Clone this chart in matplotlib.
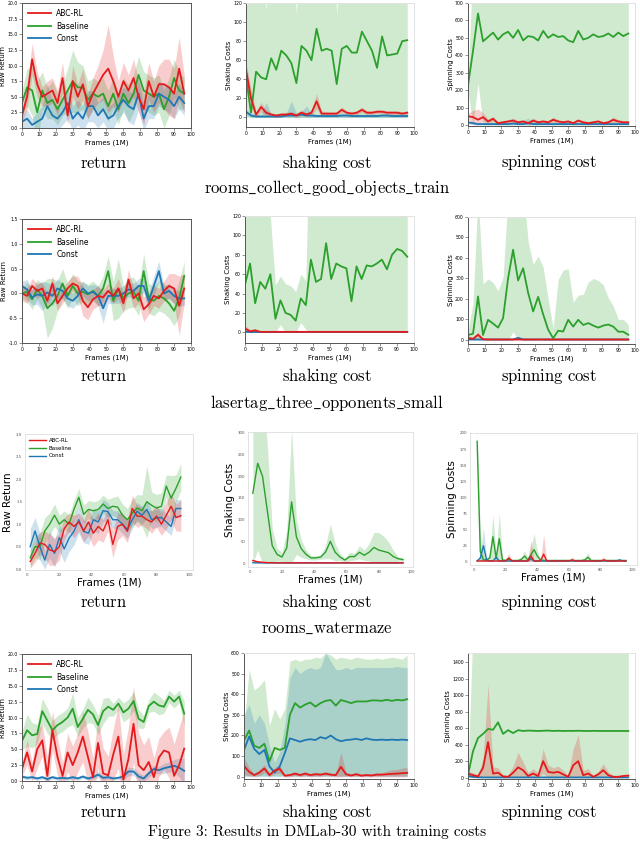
import numpy as np
import matplotlib
matplotlib.use("Agg")
import matplotlib.pyplot as plt
from matplotlib.lines import Line2D

plt.rcParams["mathtext.fontset"] = "cm"
plt.rcParams["font.family"] = ["DejaVu Sans"]
plt.rcParams["axes.unicode_minus"] = False

# ------------------------------------------------------------------ data
labels = ["ABC-RL", "Baseline", "Const"]
frames = list(range(0, 97, 3))          # 33 points
frames_wm = list(range(2, 96, 3))       # 32 points (rooms_watermaze)
frames_wm_spin = list(range(2, 97, 2))  # 48 points (rooms_watermaze spinning)

# ---- rooms_collect_good_objects_train : return
r1_ret_abc = [2.0,5.0,11.0,7.0,5.0,5.5,6.0,4.0,8.0,2.0,7.5,5.0,7.0,3.5,5.5,7.0,8.5,9.5,7.5,5.0,7.5,6.0,8.0,5.0,3.0,7.5,5.0,7.0,7.0,6.5,5.5,9.5,5.5]
r1_ret_abc_sd = [1.0,2.0,2.5,2.0,1.5,2.0,2.0,2.0,2.5,1.5,2.5,2.0,2.5,2.0,2.5,3.0,4.0,7.0,4.0,2.5,3.0,2.5,3.0,2.5,2.5,3.0,2.5,3.0,4.0,4.5,4.0,5.0,3.0]
r1_ret_base = [4.0,6.5,6.0,2.5,6.0,4.0,4.5,3.0,4.5,6.0,7.5,6.5,6.5,4.5,5.5,5.0,5.5,3.5,5.5,3.0,5.5,4.0,5.5,8.5,6.0,5.5,5.0,5.5,3.0,5.0,8.0,6.0,5.5]
r1_ret_base_sd = [2.0,3.0,4.0,5.0,3.0,2.5,3.0,2.5,2.5,3.5,5.0,4.0,3.5,3.0,2.5,2.5,2.5,2.5,2.5,2.5,2.5,3.0,3.0,3.0,3.0,3.0,3.0,3.0,3.0,3.0,3.0,3.0,2.5]
r1_ret_const = [1.0,1.5,0.5,1.0,1.5,3.5,2.0,1.5,2.5,4.0,1.5,2.5,1.5,3.5,3.5,2.0,3.0,1.5,2.0,3.5,4.5,3.5,3.0,5.5,1.5,3.5,3.5,5.5,5.0,4.5,3.5,5.0,4.0]
r1_ret_const_sd = [1.0,1.5,1.0,1.5,2.0,3.5,2.0,2.0,2.0,2.5,2.0,2.0,2.0,2.5,2.5,2.0,2.0,2.0,2.0,2.0,2.0,2.5,2.5,2.5,2.0,2.0,2.0,2.0,2.0,2.0,2.0,2.0,2.0]
# ---- rooms_collect_good_objects_train : shaking
r1_shk_abc = [50,20,3,11,5,3,2,3,3,4,2,5,3,5,17,4,4,4,4,8,5,4,5,8,5,5,6,6,5,5,5,4,5]
r1_shk_abc_sd = [8,10,3,5,3,2,2,2,2,2,2,3,2,3,8,3,2,2,2,3,2,2,2,3,2,2,2,2,2,2,2,2,2]
r1_shk_base = [42,5,48,42,40,62,50,70,65,57,36,75,70,60,93,70,72,70,35,72,75,68,68,90,80,70,52,85,65,66,67,80,81]
r1_shk_base_sd = [70,150,150,150,72,150,150,150,150,150,72,150,150,150,150,150,150,150,72,150,150,150,150,150,150,150,150,150,150,150,150,150,150]
r1_shk_const = [6,2,1,1,1,1,1,1,2,2,2,3,2,2,1.5,1.5,1.5,1.5,1.5,2,2,1.5,1.5,1.5,1.5,1.5,1.5,2,2,1.5,1.5,1.5,1.5]
r1_shk_const_sd = [3,3,2,2,15,3,2,3,3,15,3,3,10,3,2,2,2,2,2,2,2,2,2,2,2,2,2,2,2,2,2,2,2]
# ---- rooms_collect_good_objects_train : spinning
r1_spn_abc = [50,45,30,45,20,35,10,15,20,25,15,20,10,25,15,20,15,30,20,15,20,10,25,15,10,15,20,10,15,30,20,15,15]
r1_spn_abc_sd = [15,40,60,25,15,15,10,10,10,15,10,10,10,15,10,10,10,15,10,10,10,10,10,10,10,10,10,10,10,15,10,10,10]
r1_spn_base = [227,425,640,480,505,530,490,520,535,500,545,485,510,505,485,540,500,520,505,510,485,475,540,490,500,520,505,510,525,505,530,510,525]
r1_spn_base_sd = [40,500,400,550,600,600,600,600,600,600,600,600,600,600,600,600,600,600,600,600,600,600,600,600,600,600,600,600,600,600,600,600,600]
r1_spn_const = [15,10,5,5,5,5,5,5,5,8,5,5,10,5,5,5,5,5,5,5,5,5,5,5,5,5,5,5,5,5,5,5,5]
r1_spn_const_sd = [10,10,5,5,5,5,5,10,5,10,10,20,30,10,5,5,5,5,5,5,5,5,5,5,5,5,5,5,5,5,5,5,5]

# ---- lasertag_three_opponents_small : return
r2_ret_abc = [0.0,-0.05,0.15,0.05,0.1,-0.15,0.2,-0.2,-0.05,0.1,0.2,0.15,-0.15,-0.28,-0.12,-0.05,-0.08,0.05,-0.05,0.1,-0.2,0.28,-0.1,0.0,-0.32,-0.22,-0.05,-0.1,0.05,0.15,0.1,-0.25,0.1]
r2_ret_abc_sd = [0.15,0.15,0.15,0.15,0.12,0.15,0.15,0.15,0.15,0.15,0.15,0.2,0.3,0.25,0.2,0.2,0.15,0.15,0.15,0.2,0.2,0.2,0.2,0.2,0.25,0.2,0.2,0.2,0.2,0.25,0.3,0.6,0.3]
r2_ret_base = [0.0,0.03,-0.12,0.08,-0.05,-0.3,-0.2,-0.05,0.2,-0.05,0.15,0.0,0.03,-0.02,0.05,-0.05,0.1,0.45,-0.15,0.1,-0.1,0.0,0.03,-0.15,0.45,-0.1,-0.15,-0.05,-0.1,-0.2,-0.35,-0.1,0.35]
r2_ret_base_sd = [0.1,0.2,0.2,0.2,0.25,0.6,0.5,0.3,0.3,0.25,0.25,0.25,0.2,0.2,0.2,0.2,0.25,0.3,0.4,0.6,0.25,0.3,0.3,0.3,0.35,0.3,0.3,0.3,0.3,0.3,0.3,0.35,0.3]
r2_ret_const = [0.15,0.08,-0.08,-0.02,-0.05,0.02,-0.05,0.1,0.05,-0.1,-0.15,-0.05,0.1,0.0,0.03,-0.05,-0.3,-0.05,-0.05,-0.05,0.0,0.08,0.05,0.15,0.15,-0.15,0.15,0.45,0.0,0.05,-0.05,-0.1,-0.1]
r2_ret_const_sd = [0.1,0.2,0.15,0.2,0.3,0.2,0.2,0.2,0.15,0.15,0.15,0.15,0.15,0.15,0.15,0.2,0.3,0.15,0.15,0.15,0.15,0.15,0.15,0.15,0.15,0.15,0.2,0.2,0.15,0.15,0.15,0.15,0.15]
# ---- lasertag : shaking
r2_shk_abc = [4,1,2,0.5,0.5,0.5,0.5,0.5,0.5,0.5,0.5,0.5,0.5,0.5,0.5,0.5,0.5,0.5,0.5,0.5,0.5,0.5,0.5,0.5,0.5,0.5,0.5,0.5,0.5,0.5,0.5,0.5,0.5]
r2_shk_abc_sd = [3,2,2,1,1,1,1,1,1,1,1,1,1,1,1,1,1,1,1,1,1,1,1,1,1,1,1,1,1,1,1,1,1]
r2_shk_base = [49,71,30,52,45,60,14,33,20,18,12,35,28,75,52,55,92,55,71,68,66,32,68,55,69,68,71,75,65,80,86,84,78]
r2_shk_base_sd = [200,200,200,200,200,60,35,25,30,30,30,25,25,200,200,200,200,200,200,200,200,200,200,200,200,200,200,200,200,200,200,200,200]
r2_shk_const = [0.5,0.3,0.3,0.3,0.3,0.3,0.3,0.3,0.3,0.3,0.3,0.3,0.3,0.3,0.3,0.3,0.3,0.3,0.3,0.3,0.3,0.3,0.3,0.3,0.3,0.3,0.3,0.3,0.3,0.3,0.3,0.3,0.3]
r2_shk_const_sd = [1,1,1,1,1,1,1,1,1,1,1,1,1,1,1,1,1,1,1,1,1,1,1,1,1,1,1,1,1,1,1,1,1]
# ---- lasertag : spinning
r2_spn_abc = [10,5,25,3,2,2,2,2,2,2,2,2,2,2,2,2,2,2,2,2,2,2,2,2,2,2,2,2,2,2,2,2,2]
r2_spn_abc_sd = [10,8,15,3,2,2,2,2,2,2,2,2,2,2,2,2,2,2,2,2,2,2,2,2,2,2,2,2,2,2,2,2,2]
r2_spn_base = [24,30,212,24,98,80,60,106,300,440,290,350,230,139,210,125,50,8,45,41,98,65,98,73,82,70,60,70,75,65,40,40,25]
r2_spn_base_sd = [20,150,500,250,200,200,180,200,400,400,400,400,250,230,200,230,150,50,250,300,250,120,120,150,200,230,230,200,130,100,60,60,50]
r2_spn_const = [2,2,2,2,2,2,2,2,2,2,10,2,2,2,2,2,2,2,2,2,2,2,2,2,2,2,2,2,2,2,2,2,2]
r2_spn_const_sd = [3,3,3,3,3,3,3,3,3,3,8,3,3,3,3,3,3,3,3,3,3,3,3,3,3,3,3,3,3,3,3,3,3]

# ---- rooms_watermaze : return
r3_ret_abc = [0.17,0.35,0.58,0.55,0.43,0.39,0.5,0.9,1.05,0.95,1.05,0.85,1.05,0.8,0.95,0.85,1.1,0.55,0.95,1.0,0.84,1.35,1.18,1.18,1.1,1.05,1.18,1.0,1.2,1.4,1.15,1.19]
r3_ret_abc_sd = [0.15,0.2,0.25,0.3,0.35,0.3,0.3,0.25,0.2,0.25,0.2,0.25,0.3,0.3,0.3,0.25,0.25,0.3,0.3,0.25,0.25,0.3,0.25,0.2,0.2,0.25,0.25,0.25,0.3,0.3,0.3,0.35]
r3_ret_base = [0.25,0.5,0.5,0.85,1.0,1.2,1.0,1.1,1.0,1.33,1.6,1.22,1.33,1.3,1.33,1.45,1.35,1.4,1.38,1.2,1.1,1.25,1.36,1.3,1.5,1.42,1.36,1.4,1.85,1.58,1.8,2.05]
r3_ret_base_sd = [0.2,0.25,0.3,0.3,0.25,0.25,0.2,0.2,0.2,0.2,0.2,0.2,0.2,0.2,0.2,0.2,0.2,0.2,0.25,0.25,0.25,0.3,0.3,0.35,0.8,0.3,0.3,0.3,0.25,0.5,0.3,0.3]
r3_ret_const = [0.5,0.85,0.5,0.2,0.55,0.35,0.7,0.45,0.69,0.84,1.1,0.84,0.8,1.1,1.05,1.3,1.28,1.1,1.1,1.0,0.88,1.1,1.29,1.2,1.33,1.1,1.14,1.15,1.05,0.95,1.35,1.35]
r3_ret_const_sd = [0.4,0.3,0.3,0.2,0.3,0.3,0.3,0.3,0.3,0.3,0.3,0.25,0.25,0.25,0.25,0.25,0.2,0.2,0.2,0.2,0.2,0.2,0.2,0.2,0.2,0.2,0.2,0.2,0.2,0.2,0.2,0.2]
# ---- rooms_watermaze : shaking
r3_shk_abc = [6,3,2,1,1,0.5,0.5,0.5,0.5,0.5,0.5,0.5,0.5,0.5,0.5,0.5,0.5,0.5,0.5,0.5,0.5,0.5,0.5,0.5,0.5,0.5,0.5,0.5,0.5,0.5,0.5,0.5]
r3_shk_abc_sd = [2,2,1,1,1,0.5,0.5,0.5,0.5,0.5,0.5,0.5,0.5,0.5,0.5,0.5,0.5,0.5,0.5,0.5,0.5,0.5,0.5,0.5,0.5,0.5,0.5,0.5,0.5,0.5,0.5,0.5]
r3_shk_base = [161,230,200,120,40,20,14,35,141,60,33,20,12,12,14,25,50,25,14,7,15,15,25,18,25,36,30,27,24,15,10,8]
r3_shk_base_sd = [200,200,200,150,40,15,10,40,170,40,20,10,5,5,5,15,40,20,8,5,10,8,15,12,20,35,40,35,25,15,5,4]
r3_shk_const = [1,0.5,0.5,0.5,0.5,0.5,0.5,0.5,0.5,0.5,0.5,0.5,0.5,0.5,0.5,0.5,0.5,0.5,0.5,0.5,0.5,0.5,0.5,0.5,0.5,0.5,0.5,0.5,0.5,0.5,0.5,0.5]
r3_shk_const_sd = [1,1,1,1,1,1,1,1,1,1,1,1,1,1,1,1,1,1,1,1,1,1,1,1,1,1,1,1,1,1,1,1]
# ---- rooms_watermaze : spinning
r3_spn_abc = [0.3,0.3,0.3,0.3,0.3,0.3,0.3,0.3,0.3,0.3,5,0.3,0.3,0.3,0.3,0.3,0.3,8,0.3,0.3,0.3,11,0.3,0.3,0.3,0.3,0.3,0.3,0.3,0.3,2,0.3,0.3,0.3,0.3,0.3,0.3,0.3,0.3,0.3,2,0.3,0.3,0.3,0.3,0.3,0.3,0.3]
r3_spn_abc_sd = [0.5,0.5,0.5,0.5,0.5,0.5,0.5,0.5,0.5,0.5,8,0.5,0.5,0.5,0.5,0.5,0.5,25,0.5,0.5,0.5,30,0.5,0.5,0.5,0.5,0.5,0.5,0.5,0.5,5,0.5,0.5,0.5,0.5,0.5,0.5,0.5,0.5,0.5,5,0.5,0.5,0.5,0.5,0.5,0.5,0.5]
r3_spn_base = [187,15,2,2,5,38,5,35,2,1,3,1,1,1,3,8,2,10,18,8,2,1,1,1,1,1,1,1,1,1,1,1,1,1,2,6,1,1,1,1,1,1,1,1,1,1,1,1]
r3_spn_base_sd = [20,30,3,3,5,35,5,40,3,2,3,2,2,2,3,8,3,12,25,8,3,2,2,2,2,2,2,2,2,2,2,2,2,2,3,7,2,2,2,2,2,2,2,2,2,2,2,2]
r3_spn_const = [0.3,5,24,2,0.3,0.3,6,0.3,0.3,0.3,0.3,0.3,0.3,0.3,0.3,0.3,0.3,4,0.3,0.3,0.3,0.3,0.3,0.3,0.3,0.3,0.3,0.3,0.3,0.3,0.3,0.3,0.3,0.3,0.3,0.3,0.3,0.3,0.3,0.3,0.3,0.3,0.3,0.3,0.3,2,0.3,0.3]
r3_spn_const_sd = [0.5,5,28,3,0.5,0.5,6,0.5,0.5,0.5,0.5,0.5,0.5,0.5,0.5,0.5,0.5,4,0.5,0.5,0.5,0.5,0.5,0.5,0.5,0.5,0.5,0.5,0.5,0.5,0.5,0.5,0.5,0.5,0.5,0.5,0.5,0.5,0.5,0.5,0.5,0.5,0.5,0.5,0.5,2,0.5,0.5]

# ---- 4th environment : return
r4_ret_abc = [1.9,4.5,1.5,5.0,6.4,0.8,8.0,3.8,0.8,4.5,2.5,4.5,7.0,3.8,0.6,6.0,1.2,0.9,4.2,7.0,0.2,3.5,9.0,2.5,1.7,3.0,0.6,3.7,4.8,4.5,0.8,2.5,5.1]
r4_ret_abc_sd = [1.0,2.0,1.5,3.0,2.5,3.0,3.0,3.0,2.0,3.0,3.0,3.0,4.0,4.0,3.0,4.0,4.0,3.0,4.0,5.0,4.0,5.0,6.0,5.0,4.0,4.0,3.0,3.0,3.0,4.0,5.0,6.0,6.0]
r4_ret_base = [6.3,8.0,7.2,7.4,11.0,9.5,8.0,8.8,9.3,10.0,11.4,8.5,9.8,11.2,10.5,8.8,11.0,11.7,11.2,12.2,10.8,11.4,12.6,9.8,9.3,11.8,12.5,11.9,11.7,13.3,12.5,13.3,10.6]
r4_ret_base_sd = [1.5,2.5,2.0,1.5,2.0,2.0,1.5,1.5,1.5,1.5,2.5,1.5,1.5,2.0,1.5,1.5,2.0,1.5,1.0,1.0,1.5,1.5,1.5,1.5,1.0,1.0,1.5,1.5,1.0,1.0,1.0,1.0,2.0]
r4_ret_const = [0.7,0.5,0.6,0.4,0.6,0.3,0.6,0.4,0.5,0.4,0.6,0.4,0.7,0.4,0.6,1.0,0.5,0.6,0.4,0.5,0.7,1.5,1.5,0.7,0.4,1.2,1.9,1.7,2.0,2.2,2.4,2.1,1.6]
r4_ret_const_sd = [0.3,0.3,0.3,0.3,0.3,0.3,0.3,0.3,0.3,0.3,0.3,0.3,0.3,0.3,0.3,0.5,0.4,0.3,0.3,0.3,0.5,0.7,0.6,0.6,0.5,0.6,0.6,0.6,0.8,0.8,1.0,1.5,2.0]
# ---- 4th environment : shaking (bands given as low / high)
r4_shk_abc = [52,24,8,20,40,8,30,38,5,8,15,8,15,8,12,10,15,10,8,48,12,6,12,5,8,6,10,10,12,14,15,17,19]
r4_shk_abc_sd = [40,20,8,15,20,8,15,20,5,8,10,8,10,8,10,8,10,8,8,70,10,8,10,8,8,8,10,10,15,20,20,25,25]
r4_shk_base = [175,224,150,140,160,75,140,130,140,300,357,335,350,360,340,357,368,372,345,372,365,357,365,365,365,370,370,368,373,368,373,370,376]
r4_shk_base_lo = [5,5,5,5,5,5,5,5,5,5,5,5,5,5,5,5,5,5,5,5,5,5,5,5,5,5,5,5,5,5,5,5,5]
r4_shk_base_hi = [250,520,420,440,470,250,330,280,330,560,570,560,570,570,580,575,600,590,570,580,575,570,580,575,570,570,575,570,575,580,575,570,590]
r4_shk_const = [130,195,135,110,130,50,20,50,115,186,178,170,178,182,178,192,185,200,182,172,178,180,184,178,186,180,178,180,178,180,178,180,178]
r4_shk_const_lo = [0,0,0,0,0,0,0,0,0,0,0,0,0,0,0,0,0,0,0,0,0,0,0,0,0,0,0,0,0,0,0,0,0]
r4_shk_const_hi = [300,350,260,300,260,150,70,120,250,480,530,500,520,530,520,530,600,560,520,520,530,520,530,530,530,530,530,530,530,530,535,530,530]
# ---- 4th environment : spinning
r4_spn_abc = [50,30,15,120,430,50,60,15,10,60,125,90,20,50,20,200,70,60,70,40,10,150,200,30,50,10,40,90,30,10,10,20,25]
r4_spn_abc_sd = [30,30,20,100,700,80,60,20,20,80,180,100,40,60,40,150,80,60,70,50,20,200,320,60,60,20,40,80,40,20,20,20,20]
r4_spn_base = [30,320,480,530,590,580,670,530,575,540,575,565,570,568,565,568,570,566,568,565,567,566,568,566,565,567,566,565,566,565,566,565,565]
r4_spn_base_sd = [40,1500,1500,1500,1500,1500,1500,1500,1500,1500,1500,1500,1500,1500,1500,1500,1500,1500,1500,1500,1500,1500,1500,1500,1500,1500,1500,1500,1500,1500,1500,1500,1500]
r4_spn_const = [20,10,5,3,3,3,3,3,3,3,3,3,3,3,3,3,3,3,3,3,3,3,3,3,3,3,3,3,3,3,3,3,3]
r4_spn_const_sd = [15,10,5,5,5,5,5,5,5,5,5,5,5,5,5,5,5,5,5,5,5,5,5,5,5,5,5,5,5,5,5,5,5]

row_titles = ["rooms_collect_good_objects_train", "lasertag_three_opponents_small", "rooms_watermaze"]
panel_captions = ["return", "shaking cost", "spinning cost"]
caption = "Figure 3: Results in DMLab-30 with training costs"

# ------------------------------------------------------------------ style
RED, GREEN, BLUE = "#e41a1c", "#2ca02c", "#1f77b4"
W, H = 640, 841
fig = plt.figure(figsize=(W / 100, H / 100), dpi=100)


def box(l, t, r, b):
    return [l / W, 1 - b / H, (r - l) / W, (b - t) / H]


def sd_band(mean, sd):
    m = np.asarray(mean, float)
    s = np.asarray(sd, float)
    return m, m - s, m + s


def lohi_band(mean, lo, hi):
    return np.asarray(mean, float), np.asarray(lo, float), np.asarray(hi, float)


def draw(rect, x, abc, base, const, ylim, yticks, xlim, ylabel, fmt,
         cost, watermaze=False, legend=False):
    ax = fig.add_axes(box(*rect))
    x = np.asarray(x, float)
    series = [(labels[1], GREEN, base), (labels[2], BLUE, const), (labels[0], RED, abc)]
    for _, col, (m, lo, hi) in series:
        if cost:
            lo = np.maximum(lo, 0)
        ax.fill_between(x, lo, hi, color=col, alpha=0.22, lw=0)
    lw = 1.0 if watermaze else 1.3
    for _, col, (m, lo, hi) in series:
        ax.plot(x, m, color=col, lw=lw)
    ax.set_xlim(*xlim)
    ax.set_ylim(*ylim)
    ax.set_yticks(yticks)
    ax.set_yticklabels([fmt.format(v) for v in yticks])
    if watermaze:
        xt = [0, 20, 40, 60, 80, 100]
        ax.set_xticks(xt)
        ax.tick_params(labelsize=2.8, length=0, pad=2, colors="#555555")
        for s in ax.spines.values():
            s.set_color("#dddddd")
            s.set_linewidth(0.6)
        ax.set_xlabel("Frames (1M)", fontsize=7.5, labelpad=0.5)
        ax.set_ylabel(ylabel, fontsize=7.5, labelpad=2)
    else:
        xt = list(range(0, 101, 10))
        ax.set_xticks(xt)
        ax.tick_params(labelsize=3.3, length=2, width=0.4, pad=1, color="#444444")
        for k, s in ax.spines.items():
            s.set_linewidth(0.7)
            if cost and k in ("top", "right"):
                s.set_color("#e2e2e2")
            else:
                s.set_color("#555555")
        ax.set_xlabel("Frames (1M)", fontsize=5, labelpad=1.5)
        ax.set_ylabel(ylabel, fontsize=5, labelpad=1)
    if legend:
        handles = [Line2D([], [], color=RED, lw=lw), Line2D([], [], color=GREEN, lw=lw),
                   Line2D([], [], color=BLUE, lw=lw)]
        if watermaze:
            ax.legend(handles, labels, loc="upper left", frameon=False, fontsize=4,
                      handlelength=3, handletextpad=0.6, labelspacing=0.5,
                      borderaxespad=0.3)
        else:
            ax.legend(handles, labels, loc="upper left", frameon=False, fontsize=5.5,
                      handlelength=3, handletextpad=0.7, labelspacing=0.45,
                      borderaxespad=0.4)
    return ax


f = "{:.1f}"
i = "{:.0f}"
# row 1
draw((22, 3, 191, 128), frames, sd_band(r1_ret_abc, r1_ret_abc_sd), sd_band(r1_ret_base, r1_ret_base_sd),
     sd_band(r1_ret_const, r1_ret_const_sd), (0, 20), np.arange(0, 20.1, 2.5), (0, 100), "Raw Return", f,
     False, legend=True)
draw((246, 3, 414, 127), frames, sd_band(r1_shk_abc, r1_shk_abc_sd), sd_band(r1_shk_base, r1_shk_base_sd),
     sd_band(r1_shk_const, r1_shk_const_sd), (-10, 120), range(0, 121, 20), (0, 100), "Shaking Costs", i, True)
draw((468, 3, 635, 126), frames, sd_band(r1_spn_abc, r1_spn_abc_sd), sd_band(r1_spn_base, r1_spn_base_sd),
     sd_band(r1_spn_const, r1_spn_const_sd), (-6, 700), range(0, 701, 100), (0, 100), "Spinning Costs", i, True)
# row 2
draw((22, 219, 191, 343), frames, sd_band(r2_ret_abc, r2_ret_abc_sd), sd_band(r2_ret_base, r2_ret_base_sd),
     sd_band(r2_ret_const, r2_ret_const_sd), (-1.0, 1.5), np.arange(-1.0, 1.51, 0.5), (0, 100), "Raw Return", f,
     False, legend=True)
draw((245, 216, 414, 343), frames, sd_band(r2_shk_abc, r2_shk_abc_sd), sd_band(r2_shk_base, r2_shk_base_sd),
     sd_band(r2_shk_const, r2_shk_const_sd), (-11, 120), range(0, 121, 20), (0, 100), "Shaking Costs", i, True)
draw((468, 217, 635, 344), frames, sd_band(r2_spn_abc, r2_spn_abc_sd), sd_band(r2_spn_base, r2_spn_base_sd),
     sd_band(r2_spn_const, r2_spn_const_sd), (-20, 600), range(0, 601, 100), (0, 100), "Spinning Costs", i, True)
# row 3
draw((25, 434, 193, 570), frames_wm, sd_band(r3_ret_abc, r3_ret_abc_sd), sd_band(r3_ret_base, r3_ret_base_sd),
     sd_band(r3_ret_const, r3_ret_const_sd), (-0.02, 3.01), np.arange(0, 3.01, 0.5), (-1.2, 102.5), "Raw Return", f,
     False, watermaze=True, legend=True)
draw((248, 432, 413, 567), frames_wm, sd_band(r3_shk_abc, r3_shk_abc_sd), sd_band(r3_shk_base, r3_shk_base_sd),
     sd_band(r3_shk_const, r3_shk_const_sd), (-9, 302), range(0, 301, 50), (-1, 101.2), "Shaking Costs", i, True,
     watermaze=True)
draw((470, 433, 637, 565), frames_wm_spin, sd_band(r3_spn_abc, r3_spn_abc_sd), sd_band(r3_spn_base, r3_spn_base_sd),
     sd_band(r3_spn_const, r3_spn_const_sd), (-6, 200), range(0, 201, 25), (-2.5, 103), "Spinning Costs", i, True,
     watermaze=True)
# row 4
draw((22, 654, 191, 781), frames, sd_band(r4_ret_abc, r4_ret_abc_sd), sd_band(r4_ret_base, r4_ret_base_sd),
     sd_band(r4_ret_const, r4_ret_const_sd), (0, 20), np.arange(0, 20.1, 2.5), (0, 100), "Raw Return", f,
     False, legend=True)
draw((244, 653, 414, 779), frames, sd_band(r4_shk_abc, r4_shk_abc_sd),
     lohi_band(r4_shk_base, r4_shk_base_lo, r4_shk_base_hi),
     lohi_band(r4_shk_const, r4_shk_const_lo, r4_shk_const_hi), (-11, 600), range(0, 601, 100), (0, 100),
     "Shaking Costs", i, True)
draw((468, 653, 635, 779), frames, sd_band(r4_spn_abc, r4_spn_abc_sd), sd_band(r4_spn_base, r4_spn_base_sd),
     sd_band(r4_spn_const, r4_spn_const_sd), (-16, 1509), range(0, 1401, 200), (0, 100), "Spinning Costs", i, True)

# ------------------------------------------------------------------ texts
def mt(s):
    return r"$\mathrm{" + s.replace("_", r"\_").replace(" ", r"\ ") + "}$"


cap_x = [104, 327, 549]
for y in (163, 376, 602, 812):
    for cx, s in zip(cap_x, panel_captions):
        fig.text(cx / W, 1 - y / H, mt(s), ha="center", va="center", fontsize=12)
for y, s in zip((188, 403, 628), row_titles):
    fig.text(327 / W, 1 - y / H, mt(s), ha="center", va="center", fontsize=12)
fig.text(317 / W, 1 - 832 / H, caption, ha="center", va="center", fontsize=11,
         family=["cmr10", "DejaVu Serif"])

fig.savefig("out.png", dpi=100)
